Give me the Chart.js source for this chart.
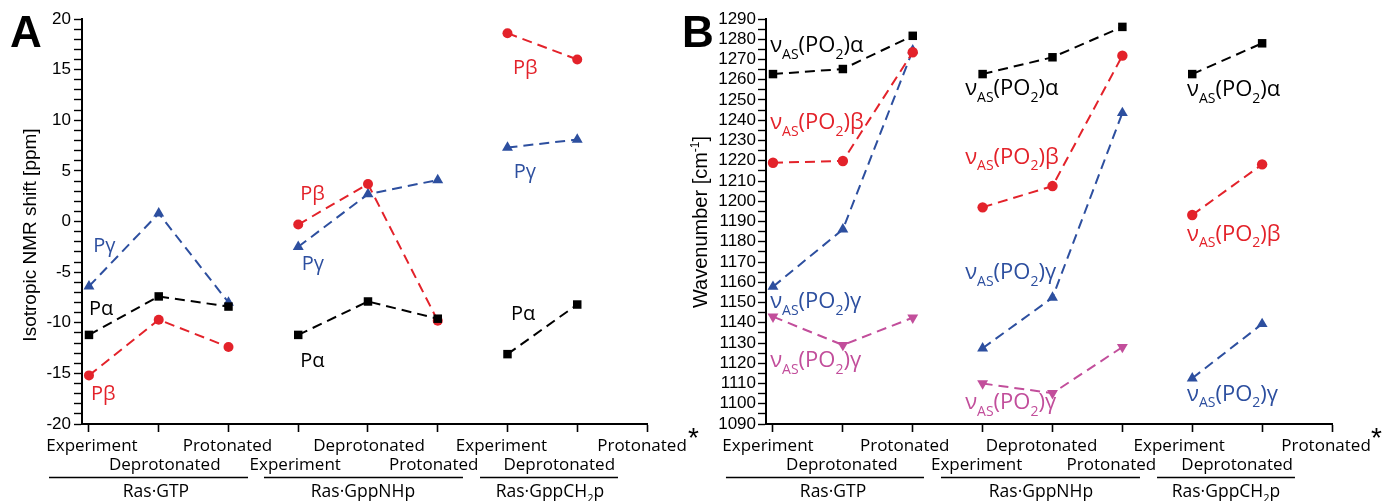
<!DOCTYPE html>
<html>
<head>
<meta charset="utf-8">
<script src="https://cdn.jsdelivr.net/npm/chart.js@4.4.1/dist/chart.umd.min.js"></script>
<style>
  html, body { margin: 0; padding: 0; background: #fff; }
  #wrap { position: relative; width: 1393px; height: 501px; overflow: hidden; }
  .box { position: absolute; top: 0; height: 501px; }
</style>
</head>
<body>
<div id="wrap">
  <div class="box" style="left:0; width:700px;"><canvas id="chartA"></canvas></div>
  <div class="box" style="left:676px; width:717px;"><canvas id="chartB"></canvas></div>
</div>
<script>
// ----- data (x index 0..8: three conditions for each of three complexes) -----
var conditions = ["Experiment", "Deprotonated", "Protonated",
                  "Experiment", "Deprotonated", "Protonated",
                  "Experiment", "Deprotonated", "Protonated"];
var complexes = ["Ras·GTP", "Ras·GppNHp", "Ras·GppCH_{2}p"];

// Panel A: isotropic 31P NMR shift [ppm]
var nmrAlpha = [-11.2, -7.4, -8.4, -11.2, -7.9, -9.6, -13.1, -8.2, null];
var nmrBeta  = [-15.2, -9.7, -12.4, -0.3, 3.7, -9.8, 18.6, 16.0, null];
var nmrGamma = [-6.4, 0.8, -8.0, -2.5, 2.7, 4.1, 7.3, 8.1, null];

// Panel B: wavenumber [cm-1]
var irAlpha  = [1262.8, 1265.3, 1281.7, 1262.8, 1271.1, 1286.1, 1262.8, 1278.0, null];
var irBeta   = [1219.0, 1219.9, 1273.6, 1197.0, 1207.5, 1271.9, 1193.2, 1218.2, null];
var irGamma  = [1157.8, 1186.1, 1274.5, 1127.4, 1152.4, 1243.6, 1112.6, 1139.4, null];
var irGamma2 = [1143.0, 1129.0, 1142.5, 1110.0, 1105.2, 1128.0, null, null, null];

var BLACK = "#000000";
var RED = "#e3222a";
var BLUE = "#2d4f9f";
var MAGENTA = "#c24e9b";

// ----- annotation placement (left x in category units, baseline y in data units) -----
var nmrNotes = [
  { text: "Pγ", color: BLUE,  x: 0.06, y: -3.0 },
  { text: "Pα", color: BLACK, x: 0.0,  y: -9.2 },
  { text: "Pβ", color: RED,   x: 0.03, y: -17.6 },
  { text: "Pβ", color: RED,   x: 3.03, y: 2.1 },
  { text: "Pγ", color: BLUE,  x: 3.05, y: -4.8 },
  { text: "Pα", color: BLACK, x: 3.03, y: -14.4 },
  { text: "Pβ", color: RED,   x: 6.08, y: 14.6 },
  { text: "Pγ", color: BLUE,  x: 6.09, y: 4.3 },
  { text: "Pα", color: BLACK, x: 6.05, y: -9.7 }
];
var irNotes = [
  { text: "ν_{AS}(PO_{2})α", color: BLACK,   x: -0.04, y: 1273.7 },
  { text: "ν_{AS}(PO_{2})β", color: RED,     x: -0.04, y: 1235.7 },
  { text: "ν_{AS}(PO_{2})γ", color: BLUE,    x: -0.04, y: 1147.3 },
  { text: "ν_{AS}(PO_{2})γ", color: MAGENTA, x: -0.04, y: 1118.1 },
  { text: "ν_{AS}(PO_{2})α", color: BLACK,   x: 2.75,  y: 1252.5 },
  { text: "ν_{AS}(PO_{2})β", color: RED,     x: 2.75,  y: 1218.6 },
  { text: "ν_{AS}(PO_{2})γ", color: BLUE,    x: 2.75,  y: 1161.6 },
  { text: "ν_{AS}(PO_{2})γ", color: MAGENTA, x: 2.75,  y: 1097.3 },
  { text: "ν_{AS}(PO_{2})α", color: BLACK,   x: 5.925, y: 1252.0 },
  { text: "ν_{AS}(PO_{2})β", color: RED,     x: 5.925, y: 1180.6 },
  { text: "ν_{AS}(PO_{2})γ", color: BLUE,    x: 5.925, y: 1101.5 }
];

var LABEL_FONT = "'Open Sans', 'Noto Sans', sans-serif";
var NUM_FONT = "'Liberation Sans', Arial, sans-serif";

/**
 * Splits "ν_{AS}(PO_{2})" into plain / subscript / superscript runs.
 */
function parseRich(str) {
  var parts = [];
  var re = /([_^])\{([^}]*)\}/g;
  var last = 0, m;
  while ((m = re.exec(str)) !== null) {
    if (m.index > last) parts.push({ text: str.slice(last, m.index), mode: "" });
    parts.push({ text: m[2], mode: m[1] });
    last = re.lastIndex;
  }
  if (last < str.length) parts.push({ text: str.slice(last), mode: "" });
  return parts;
}

/**
 * Draws a rich text run at (x, baseline y). align: left | center.
 */
function drawRich(ctx, str, x, y, size, family, color, align) {
  var parts = parseRich(str);
  var small = Math.round(size * 0.62);
  var widths = [];
  var total = 0;
  for (var i = 0; i < parts.length; i++) {
    ctx.font = (parts[i].mode ? small : size) + "px " + family;
    widths.push(ctx.measureText(parts[i].text).width);
    total += widths[i];
  }
  var cx = align === "center" ? x - total / 2 : x;
  ctx.fillStyle = color;
  ctx.textAlign = "left";
  ctx.textBaseline = "alphabetic";
  for (var j = 0; j < parts.length; j++) {
    var p = parts[j];
    ctx.font = (p.mode ? small : size) + "px " + family;
    var dy = p.mode === "_" ? size * 0.3 : (p.mode === "^" ? -size * 0.42 : 0);
    ctx.fillText(p.text, cx, y + dy);
    cx += widths[j];
  }
}

/**
 * One dashed line dataset per complex, so the segments don't join across groups.
 */
function buildDatasets(values, color, style, radius, rotation) {
  var sets = [];
  for (var g = 0; g < 3; g++) {
    var pts = [];
    for (var k = g * 3; k < g * 3 + 3; k++) {
      if (values[k] != null) pts.push({ x: k, y: values[k] });
    }
    if (!pts.length) continue;
    sets.push({
      data: pts,
      borderColor: color,
      backgroundColor: color,
      borderWidth: 2,
      borderDash: [10, 6],
      pointStyle: style,
      pointRadius: radius,
      pointRotation: rotation || 0,
      pointBorderWidth: 0,
      pointBackgroundColor: color,
      tension: 0,
      fill: false
    });
  }
  return sets;
}

// Plugin drawing panel letter, axis title, two-row category labels, group bars and notes
var decorPlugin = {
  id: "decor",
  afterDraw: function(chart) {
    var o = chart.options.plugins.decor;
    var ctx = chart.ctx;
    var xs = chart.scales.x;
    var ys = chart.scales.y;
    ctx.save();

    // panel letter
    ctx.font = "bold 44px " + NUM_FONT;
    ctx.fillStyle = "#000";
    ctx.textAlign = "left";
    ctx.textBaseline = "alphabetic";
    ctx.fillText(o.letter, o.letterX, 47);

    // y-axis title, rotated
    ctx.save();
    ctx.translate(o.titleX, o.titleY);
    ctx.rotate(-Math.PI / 2);
    drawRich(ctx, o.title, 0, 0, o.titleSize, NUM_FONT, "#000", "center");
    ctx.restore();

    // category labels, alternating rows
    for (var i = 0; i < conditions.length; i++) {
      var px = xs.getPixelForValue(i) + o.nudge[i];
      drawRich(ctx, conditions[i], px, i % 2 === 0 ? 451 : 470, 17, LABEL_FONT, "#000", "center");
    }

    // complex bars and names
    ctx.strokeStyle = "#000";
    ctx.lineWidth = 1.6;
    for (var g = 0; g < complexes.length; g++) {
      var x0 = xs.getPixelForValue(o.bars[g][0]);
      var x1 = xs.getPixelForValue(o.bars[g][1]);
      ctx.beginPath();
      ctx.moveTo(x0, 477.5);
      ctx.lineTo(x1, 477.5);
      ctx.stroke();
      drawRich(ctx, complexes[g], xs.getPixelForValue(o.barLabels[g]), 497, 17.5, LABEL_FONT, "#000", "center");
    }

    // asterisk after the axis
    ctx.font = "28px " + NUM_FONT;
    ctx.fillStyle = "#000";
    ctx.fillText("*", chart.chartArea.right + o.starDx, 447);

    // series notes
    for (var n = 0; n < o.notes.length; n++) {
      var a = o.notes[n];
      drawRich(ctx, a.text, xs.getPixelForValue(a.x), ys.getPixelForValue(a.y), o.noteSize, LABEL_FONT, a.color, "left");
    }
    ctx.restore();
  }
};

/**
 * Builds one panel from its datasets, value-axis settings and decoration settings.
 */
function makePanel(canvasId, datasets, axis, decor) {
  var ctx = document.getElementById(canvasId).getContext("2d");
  return new Chart(ctx, {
    type: "line",
    data: { datasets: datasets },
    options: {
      responsive: true,
      maintainAspectRatio: false,
      animation: false,
      layout: { padding: { left: 0, top: 19, right: axis.padRight, bottom: 0 } },
      plugins: {
        legend: { display: false },
        tooltip: { enabled: false },
        decor: decor
      },
      scales: {
        x: {
          type: "linear",
          min: -0.1,
          max: 8,
          afterBuildTicks: function(s) {
            s.ticks = conditions.map(function(_, i) { return { value: i }; });
          },
          afterFit: function(s) { s.height = 77; },
          ticks: { display: false },
          grid: { drawOnChartArea: false, drawTicks: true, tickLength: 8, tickColor: "#000", tickWidth: 1.6 },
          border: { display: true, color: "#000", width: 2 }
        },
        y: {
          type: "linear",
          min: axis.min,
          max: axis.max,
          afterBuildTicks: function(s) {
            var t = [];
            for (var v = axis.min; v <= axis.max; v += axis.step) t.push({ value: v });
            s.ticks = t;
          },
          afterFit: function(s) { s.width = axis.width; },
          ticks: {
            autoSkip: false,
            padding: axis.labelPad,
            color: "#000",
            font: { family: NUM_FONT, size: 17 },
            callback: function(v) { return v % axis.labelEvery === 0 ? String(v) : ""; }
          },
          grid: { drawOnChartArea: false, drawTicks: true, tickLength: 8, tickColor: "#000", tickWidth: 1.4 },
          border: { display: true, color: "#000", width: 2 }
        }
      }
    },
    plugins: [decorPlugin]
  });
}

var nmrSets = []
  .concat(buildDatasets(nmrAlpha, BLACK, "rect", 6))
  .concat(buildDatasets(nmrBeta, RED, "circle", 5))
  .concat(buildDatasets(nmrGamma, BLUE, "triangle", 6.3));

var irSets = []
  .concat(buildDatasets(irAlpha, BLACK, "rect", 6))
  .concat(buildDatasets(irBeta, RED, "circle", 5.2))
  .concat(buildDatasets(irGamma, BLUE, "triangle", 6.3))
  .concat(buildDatasets(irGamma2, MAGENTA, "triangle", 6.3, 180));

makePanel("chartA", nmrSets,
  { min: -20, max: 20, step: 1, labelEvery: 5, width: 82, padRight: 53, labelPad: 3 },
  {
    letter: "A", letterX: 10,
    title: "Isotropic NMR shift [ppm]", titleX: 36, titleY: 235, titleSize: 19,
    nudge: [3, 6, -1, -3, 1, -4, -6, -18, -5],
    bars: [[-0.573, 2.28], [2.509, 5.362], [5.606, 7.584]],
    barLabels: [0.96, 3.928, 6.609],
    starDx: 41,
    noteSize: 20,
    notes: nmrNotes
  });

makePanel("chartB", irSets,
  { min: 1090, max: 1290, step: 5, labelEvery: 10, width: 90, padRight: 61, labelPad: 2 },
  {
    letter: "B", letterX: 6,
    title: "Wavenumber [cm^{-1}]", titleX: 31, titleY: 222, titleSize: 20,
    nudge: [-5, -1, -8, -6, -11, -11, -13, -25, -6],
    bars: [[-0.673, 2.161], [2.404, 5.252], [5.496, 7.47]],
    barLabels: [0.859, 3.835, 6.483],
    starDx: 39,
    noteSize: 22,
    notes: irNotes
  });
</script>
</body>
</html>
